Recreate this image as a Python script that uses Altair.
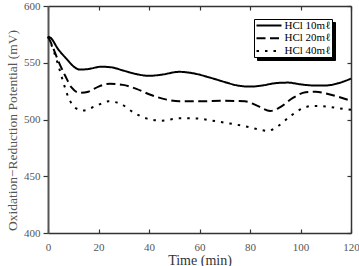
import altair as alt
import pandas as pd

# ORP readings over time for three HCl dosages
t_10 = [0, 1, 4, 7.5, 10, 12.5, 16, 21, 25, 30, 35, 40, 45, 52, 58, 64, 70, 75, 80, 85, 90, 95, 100, 105, 110, 115, 120]
v_10 = [573, 572, 562, 553, 547, 544, 544.5, 546.5, 546, 543, 540, 538.5, 539.5, 542, 540.5, 537, 533, 530, 529, 530, 532, 532.5, 531, 530, 530, 532, 536]

t_20 = [0, 1.5, 4, 6.7, 9.4, 12.6, 16, 20, 24.5, 29.7, 35, 40.3, 47, 52, 60, 70, 78, 83, 88, 92, 97, 102, 106, 110, 115, 120]
v_20 = [573, 566, 552, 539, 528, 523.5, 524.5, 529, 531.5, 530.5, 527, 522, 517.5, 516, 516, 516.5, 516, 512, 507.5, 511, 519, 524, 524.5, 523, 520, 516.5]

t_40 = [0, 2, 3.5, 5.5, 8, 11, 14, 19, 24, 29, 34, 39, 45, 52, 58, 65, 72, 78, 83, 87, 91, 96, 101, 105, 110, 115, 120]
v_40 = [573, 562, 552, 537, 520, 510, 508, 512, 516, 513.5, 506, 501, 499, 501, 501, 499, 496.5, 494, 491.5, 490, 494, 503, 510, 512, 511.5, 510, 508.5]

series_names = ["HCl 10mℓ", "HCl 20mℓ", "HCl 40mℓ"]
x_ticks = [0, 20, 40, 60, 80, 100, 120]
y_ticks = [400, 450, 500, 550, 600]

frames = []
for name, ts, vs in zip(series_names, [t_10, t_20, t_40], [v_10, v_20, v_40]):
    frames.append(pd.DataFrame({"t": ts, "v": vs, "series": name}))
df = pd.concat(frames, ignore_index=True)
df["shade"] = df["series"]

W, H = 303, 227
FONT = "Liberation Serif"
AX = "#333333"
LEG_X, LEG_Y = 206, 13

x_scale = alt.Scale(domain=[0, 120], nice=False, zero=False)
y_scale = alt.Scale(domain=[400, 600], nice=False, zero=False)

dash_scale = alt.Scale(domain=series_names, range=[[1, 0], [9, 4.5], [2.5, 6]])

legend_common = dict(
    title=None, orient="none", padding=1, cornerRadius=0,
    symbolType="M-1,0H5.25", symbolSize=64, symbolStrokeWidth=2,
    symbolFillColor="transparent", labelFont=FONT, labelFontSize=11,
    labelOffset=18.5, rowPadding=0.7,
)

# the same legend entries in solid black, offset down-right: the box's drop shadow
shadow = alt.Chart(df).mark_point(opacity=0).encode(
    x=alt.X("t:Q", scale=x_scale, axis=None),
    y=alt.Y("v:Q", scale=y_scale, axis=None),
    color=alt.Color("shade:N", sort=series_names,
        scale=alt.Scale(range=["black", "black", "black"]),
        legend=alt.Legend(
            legendX=LEG_X + 3, legendY=LEG_Y + 3, fillColor="black",
            strokeColor="black", symbolStrokeColor="black", labelColor="black",
            labelOpacity=0, symbolOpacity=1, **legend_common)),
)

lines = alt.Chart(df).mark_line(
    interpolate="monotone", color="black", strokeWidth=2, strokeCap="butt"
).encode(
    x=alt.X("t:Q", scale=x_scale, axis=alt.Axis(
        orient="bottom", values=x_ticks, title="Time (min)", ticks=False,
        labelPadding=8, titlePadding=1, labelFont=FONT, titleFont=FONT,
        labelFontSize=11, titleFontSize=14, titleFontWeight="normal",
        labelColor="#555555", titleColor="#333333", domainColor=AX,
        domainWidth=1.5, grid=False, labelFlush=False)),
    y=alt.Y("v:Q", scale=y_scale, axis=alt.Axis(
        orient="left", values=y_ticks, title="Oxidation−Reduction Potential (mV)",
        tickSize=5, tickColor=AX, tickWidth=1.2, labelPadding=3, titlePadding=4,
        labelFont=FONT, titleFont=FONT, labelFontSize=11, titleFontSize=13.5,
        titleFontWeight="normal", labelColor="#555555", titleColor="#555555",
        domainColor="#555555", domainWidth=2, grid=False, titleY=124)),
    strokeDash=alt.StrokeDash("series:N", scale=dash_scale, sort=series_names,
        legend=alt.Legend(
            legendX=LEG_X, legendY=LEG_Y, fillColor="white", strokeColor="black",
            symbolStrokeColor="black", labelColor="black", **legend_common)),
    detail="series:N",
)

# hidden layer carrying inward ticks on the bottom and right edges
inner_a = alt.Chart(df).mark_point(opacity=0).encode(
    x=alt.X("t:Q", scale=x_scale, axis=alt.Axis(
        orient="top", offset=-H, values=x_ticks, labels=False, title=None,
        domain=False, tickSize=4, tickColor=AX, tickWidth=1.2, grid=False)),
    y=alt.Y("v:Q", scale=y_scale, axis=alt.Axis(
        orient="left", offset=-W, values=y_ticks, labels=False, title=None,
        domain=True, domainColor=AX, domainWidth=1.5, tickSize=4,
        tickColor=AX, tickWidth=1.2, grid=False)),
)

# hidden layer carrying the top edge with downward ticks
inner_b = alt.Chart(df).mark_point(opacity=0).encode(
    x=alt.X("t:Q", scale=x_scale, axis=alt.Axis(
        orient="bottom", offset=-H, values=x_ticks, labels=False, title=None,
        domain=True, domainColor=AX, domainWidth=1.5, tickSize=4,
        tickColor=AX, tickWidth=1.2, grid=False)),
    y=alt.Y("v:Q", scale=y_scale, axis=None),
)

chart = alt.layer(shadow, lines, inner_a, inner_b).resolve_axis(
    x="independent", y="independent"
).properties(
    width=W, height=H,
    autosize=alt.AutoSizeParams(type="none"),
    padding={"left": 48, "top": 6, "right": 8, "bottom": 33},
    background="white",
).configure_view(stroke=None)

chart.save("out.html", embed_options={"renderer": "svg", "actions": False})
